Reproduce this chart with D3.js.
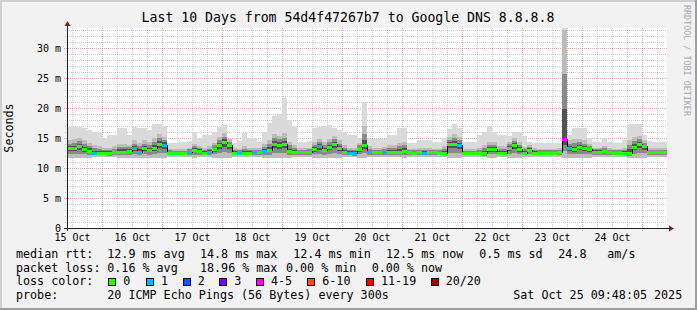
<!DOCTYPE html>
<html>
<head>
<meta charset="utf-8">
<script src="https://cdn.jsdelivr.net/npm/d3@7"></script>
<style>
    html, body { margin: 0; padding: 0; background: #f2f2f2; }
    svg { display: block; }
    text { font-family: "DejaVu Sans Mono", monospace; fill: #000; }
</style>
</head>
<body>
<svg id="chart" width="697" height="310"></svg>
<script>
'use strict';

// median rtt per 2 hour step (ms)
var median = [
    13.3, 13.3, 13.6, 13.1, 12.9, 12.55, 12.55, 12.55, 12.5, 12.6,
    12.75, 12.75, 12.85, 13.3, 12.75, 13.3, 13.0, 13.3, 14.0, 13.9,
    12.5, 12.5, 12.5, 12.5, 12.7, 13.0, 12.9, 12.55, 12.7, 13.1,
    13.8, 14.4, 13.8, 12.55, 12.55, 12.55, 12.55, 12.6, 12.6, 12.9,
    13.0, 14.0, 13.85, 14.0, 12.8, 12.6, 12.6, 12.6, 12.7, 13.1,
    13.6, 13.0, 13.5, 14.0, 13.3, 12.7, 12.55, 12.5, 13.1, 13.8,
    12.6, 12.6, 12.6, 12.6, 12.7, 12.7, 12.75, 12.85, 12.6, 12.55,
    12.6, 12.55, 12.6, 12.6, 12.55, 12.55, 14.0, 14.0, 13.85, 12.45,
    12.45, 12.45, 12.45, 12.45, 13.1, 13.15, 12.55, 12.55, 13.3, 13.8,
    13.1, 12.55, 13.0, 12.55, 12.55, 12.55, 12.55, 12.55, 12.6, 14.8,
    13.3, 13.1, 13.55, 13.3, 13.1, 12.75, 12.75, 12.85, 12.6, 12.55,
    12.55, 12.55, 12.55, 13.5, 14.0, 13.6, 12.6, 12.6, 12.6, 12.6
];

// index into LOSS_COLORS
var loss = [
    0, 0, 0, 0, 0, 1, 0, 0, 0, 0,
    0, 0, 0, 1, 1, 0, 0, 0, 0, 1,
    0, 0, 0, 0, 1, 0, 0, 0, 1, 0,
    0, 0, 0, 0, 1, 0, 0, 1, 0, 1,
    0, 0, 0, 0, 0, 0, 0, 0, 0, 0,
    1, 0, 0, 0, 0, 0, 1, 1, 0, 0,
    1, 0, 0, 1, 0, 0, 0, 0, 0, 0,
    0, 1, 0, 0, 0, 0, 0, 0, 1, 0,
    0, 0, 0, 0, 0, 0, 0, 0, 0, 0,
    0, 0, 0, 0, 0, 0, 0, 0, 0, 4,
    1, 0, 0, 0, 0, 0, 0, 0, 0, 0,
    0, 0, 0, 0, 0, 0, 0, 0, 0, 0
];

// smoke: lowest ping, upper dark edge, highest ping (ms)
var smokeLo = [
    11.6, 11.6, 11.6, 11.7, 11.7, 11.8, 11.8, 11.8, 11.8, 11.8,
    11.7, 11.7, 11.7, 11.6, 11.7, 11.6, 11.7, 11.6, 11.6, 11.6,
    11.9, 11.9, 11.9, 11.9, 11.8, 11.7, 11.8, 11.8, 11.8, 11.7,
    11.6, 11.6, 11.7, 11.9, 11.9, 11.8, 11.8, 11.8, 11.9, 11.7,
    11.7, 11.6, 11.6, 11.6, 11.7, 11.8, 11.9, 11.9, 11.8, 11.7,
    11.6, 11.7, 11.6, 11.6, 11.7, 11.8, 11.8, 11.8, 11.7, 11.6,
    11.8, 11.9, 11.9, 11.9, 11.8, 11.8, 11.8, 11.7, 11.9, 11.9,
    11.9, 11.9, 11.9, 11.9, 11.9, 11.8, 11.6, 11.6, 11.6, 11.9,
    11.9, 11.9, 11.9, 11.8, 11.7, 11.7, 11.8, 11.8, 11.7, 11.6,
    11.7, 11.8, 11.8, 11.9, 11.9, 11.9, 11.9, 11.9, 11.9, 11.6,
    11.7, 11.7, 11.6, 11.7, 11.7, 11.8, 11.8, 11.8, 11.9, 11.9,
    11.9, 11.9, 11.7, 11.6, 11.6, 11.7, 11.8, 11.9, 11.9, 11.9
];
var smokeHi = [
    14.6, 14.8, 15.0, 14.6, 14.2, 13.8, 13.6, 13.4, 13.4, 13.6,
    14.0, 14.0, 13.8, 14.6, 14.2, 14.6, 14.4, 15.0, 15.6, 15.2,
    13.2, 13.1, 13.1, 13.1, 13.4, 14.0, 13.6, 13.4, 13.6, 14.2,
    15.2, 15.8, 14.8, 13.3, 13.2, 13.6, 13.4, 13.4, 13.3, 14.0,
    14.6, 15.6, 15.4, 15.8, 14.4, 13.8, 13.3, 13.3, 13.4, 14.4,
    14.9, 14.4, 14.8, 15.3, 14.6, 13.8, 13.4, 13.4, 14.2, 17.0,
    13.6, 13.4, 13.4, 13.5, 13.8, 13.8, 14.2, 14.4, 13.2, 13.2,
    13.4, 13.4, 13.4, 13.2, 13.2, 13.6, 15.2, 15.6, 15.2, 13.2,
    13.1, 13.1, 13.4, 13.8, 14.4, 14.4, 13.6, 13.6, 14.4, 15.0,
    14.4, 13.5, 13.9, 13.3, 13.2, 13.2, 13.2, 13.2, 13.3, 33.0,
    14.6, 14.8, 14.8, 14.6, 14.0, 13.4, 13.4, 13.6, 13.3, 13.2,
    13.2, 13.3, 14.6, 15.2, 15.4, 14.6, 13.4, 13.3, 13.3, 13.3
];
var smokeMax = [
    16.9, 16.9, 16.9, 16.6, 16.3, 16.05, 16.05, 15.0, 15.5, 15.5,
    16.6, 16.6, 15.5, 16.9, 16.6, 16.6, 16.3, 17.3, 17.3, 17.0,
    14.2, 14.2, 14.3, 14.3, 14.5, 16.0, 15.0, 15.5, 15.5, 16.0,
    16.9, 17.2, 14.3, 14.2, 14.5, 15.8, 15.0, 15.0, 14.3, 16.0,
    17.5, 18.7, 19.0, 21.6, 18.0, 17.0, 14.3, 14.3, 14.5, 16.6,
    16.9, 17.0, 17.2, 16.6, 16.3, 16.0, 15.5, 15.5, 15.0, 21.0,
    15.0, 14.9, 14.9, 14.9, 15.5, 15.5, 16.6, 16.6, 14.2, 14.2,
    14.6, 14.6, 14.6, 14.3, 14.3, 15.0, 16.5, 17.3, 16.6, 14.3,
    14.3, 14.3, 15.5, 16.0, 17.0, 16.0, 15.5, 15.5, 15.3, 16.0,
    16.0, 15.3, 14.3, 14.2, 14.2, 14.2, 14.2, 14.2, 14.2, 33.3,
    15.5, 16.6, 16.6, 16.6, 15.0, 14.3, 14.3, 15.0, 14.3, 14.2,
    14.2, 14.6, 17.3, 17.3, 17.3, 15.5, 14.5, 14.3, 14.3, 14.3
];

var LOSS_COLORS = ['#26ff00', '#00b8ff', '#0059ff', '#7e00ff', '#ff00ff', '#ff5500', '#ff0000', '#a10000'];
var LOSS_LABELS = ['0', '1', '2', '3', '4-5', '6-10', '11-19', '20/20'];
var Y_TICKS = [0, 5, 10, 15, 20, 25, 30];

var TITLE = 'Last 10 Days from 54d4f47267b7 to Google DNS 8.8.8.8';
var STAMP = 'Sat Oct 25 09:48:05 2025';
var STEP = 7200 * 1000;
var END = Date.UTC(2025, 9, 25, 9, 48, 5);
var START = END - 10 * 86400 * 1000;

var W = 697, H = 310;
var LEFT = 67, RIGHT = 667, TOP = 28, BOTTOM = 228;
var GRID = 'rgba(143,143,143,0.45)';
var MGRID = 'rgba(222,79,79,0.5)';

var svg = d3.select('#chart');

var x = d3.scaleUtc().domain([new Date(START), new Date(END)]).range([LEFT, RIGHT]);
var y = d3.scaleLinear().domain([0, 100 / 3]).range([BOTTOM, TOP]);

function tx(i) { return Math.round(x(new Date(START + i * STEP))); }
function ty(v) { return Math.round(y(v)); }
function crisp(v) { return Math.round(v) + 0.5; }

// frame
svg.append('rect').attr('width', W).attr('height', H).attr('fill', '#f2f2f2');
svg.append('path').attr('d', 'M0,0H' + W + 'V2H2V' + H + 'H0Z').attr('fill', '#cfcfcf');
svg.append('path').attr('d', 'M' + W + ',' + H + 'H0V' + (H - 2) + 'H' + (W - 2) + 'V0H' + W + 'Z').attr('fill', '#9e9e9e');
svg.append('rect').attr('x', LEFT).attr('y', TOP).attr('width', RIGHT - LEFT).attr('height', BOTTOM - TOP).attr('fill', '#fff');

// grid
var grid = svg.append('g').attr('shape-rendering', 'crispEdges');
var minorX = x.ticks(d3.utcHour.every(6)).filter(function (d) { return d.getUTCHours() !== 0; });
var majorX = x.ticks(d3.utcDay.every(1));
var minorY = d3.range(1, 34).filter(function (v) { return v % 5 !== 0; });

grid.selectAll('.gx').data(minorX).enter().append('line')
    .attr('x1', function (d) { return crisp(x(d)); }).attr('x2', function (d) { return crisp(x(d)); })
    .attr('y1', TOP).attr('y2', BOTTOM + 2)
    .attr('stroke', GRID).attr('stroke-dasharray', '1,1');
grid.selectAll('.gy').data(minorY).enter().append('line')
    .attr('y1', function (d) { return crisp(y(d)); }).attr('y2', function (d) { return crisp(y(d)); })
    .attr('x1', LEFT - 2).attr('x2', RIGHT)
    .attr('stroke', GRID).attr('stroke-dasharray', '1,1');
grid.selectAll('.mx').data(majorX).enter().append('line')
    .attr('x1', function (d) { return crisp(x(d)); }).attr('x2', function (d) { return crisp(x(d)); })
    .attr('y1', TOP).attr('y2', BOTTOM + 3)
    .attr('stroke', MGRID).attr('stroke-dasharray', '1,1');
grid.selectAll('.my').data(Y_TICKS.slice(1)).enter().append('line')
    .attr('y1', function (d) { return crisp(y(d)); }).attr('y2', function (d) { return crisp(y(d)); })
    .attr('x1', LEFT - 3).attr('x2', RIGHT)
    .attr('stroke', MGRID).attr('stroke-dasharray', '1,1');

// smoke, outermost band first
var bands = [
    { lo: 0, hi: null, color: '#dadada' },
    { lo: 0, hi: 0, color: '#bcbcbc' },
    { lo: 0.4, hi: 0.4, color: '#8a8a8a' },
    { lo: 0.7, hi: 0.72, color: '#525252' }
];
var smoke = svg.append('g').attr('shape-rendering', 'crispEdges');
bands.forEach(function (b) {
    smoke.append('g').selectAll('rect').data(median).enter().append('rect')
        .attr('x', function (d, i) { return tx(i); })
        .attr('width', function (d, i) { return tx(i + 1) - tx(i); })
        .attr('y', function (d, i) {
            var top = b.hi === null ? smokeMax[i] : smokeHi[i] - (smokeHi[i] - d) * b.hi;
            return ty(top);
        })
        .attr('height', function (d, i) {
            var top = b.hi === null ? smokeMax[i] : smokeHi[i] - (smokeHi[i] - d) * b.hi;
            var bot = smokeLo[i] + (d - smokeLo[i]) * b.lo;
            return Math.max(1, ty(bot) - ty(top));
        })
        .attr('fill', b.color);
});

// median: thin black staircase, then loss coloured steps
var stepData = median.concat([median[median.length - 1]]);
svg.append('path')
    .datum(stepData)
    .attr('d', d3.line()
        .x(function (d, i) { return tx(i); })
        .y(function (d) { return crisp(y(d)); })
        .curve(d3.curveStepAfter))
    .attr('fill', 'none').attr('stroke', '#000').attr('stroke-width', 1)
    .attr('shape-rendering', 'crispEdges');
svg.append('g').attr('shape-rendering', 'crispEdges').selectAll('rect').data(median).enter().append('rect')
    .attr('x', function (d, i) { return tx(i); })
    .attr('width', function (d, i) { return tx(i + 1) - tx(i); })
    .attr('y', function (d) { return ty(d) - 1; })
    .attr('height', 3)
    .attr('fill', function (d, i) { return LOSS_COLORS[loss[i]]; });

// axes and arrows
var axis = svg.append('g').attr('shape-rendering', 'crispEdges');
axis.append('line').attr('x1', LEFT - 3).attr('x2', RIGHT + 3).attr('y1', BOTTOM + 0.5).attr('y2', BOTTOM + 0.5).attr('stroke', '#1f1f1f');
axis.append('line').attr('x1', LEFT + 0.5).attr('x2', LEFT + 0.5).attr('y1', BOTTOM + 3).attr('y2', TOP - 3).attr('stroke', '#1f1f1f');
svg.append('path').attr('d', 'M' + (RIGHT + 2) + ',' + (BOTTOM - 2.5) + 'L' + (RIGHT + 7) + ',' + (BOTTOM + 0.5) + 'L' + (RIGHT + 2) + ',' + (BOTTOM + 3.5) + 'Z').attr('fill', '#801f1f');
svg.append('path').attr('d', 'M' + (LEFT - 2.5) + ',' + (TOP - 2) + 'L' + (LEFT + 0.5) + ',' + (TOP - 7) + 'L' + (LEFT + 3.5) + ',' + (TOP - 2) + 'Z').attr('fill', '#801f1f');

// tick labels
svg.append('g').selectAll('text').data(Y_TICKS).enter().append('text')
    .attr('x', LEFT - 6).attr('y', function (d) { return y(d) + 3.5; })
    .attr('text-anchor', 'end').style('font-size', '10px')
    .text(function (d) { return d ? d + ' m' : '0'; });

var dayLabels = d3.utcDay.range(new Date(START - 86400000), new Date(END))
    .map(function (d) { return d3.utcHour.offset(d, 12); })
    .filter(function (d) { return d >= new Date(START) && d <= new Date(END); });
svg.append('g').selectAll('text').data(dayLabels).enter().append('text')
    .attr('x', function (d) { return x(d); }).attr('y', 241)
    .attr('text-anchor', 'middle').style('font-size', '10px')
    .text(d3.utcFormat('%d %b'));

// titles
svg.append('text').attr('x', 348).attr('y', 22).attr('text-anchor', 'middle')
    .style('font-size', '13.2px').text(TITLE);
svg.append('text').attr('transform', 'translate(13,' + ((TOP + BOTTOM) / 2) + ') rotate(-90)')
    .attr('text-anchor', 'middle').style('font-size', '11.7px').text('Seconds');
svg.append('text').attr('transform', 'translate(684,5) rotate(90)')
    .style('font-size', '8.4px').style('fill', '#a8a8a8').text('RRDTOOL / TOBI OETIKER');

// legend
var legendRows = [
    { y: 258.3, items: [['median rtt:', 16], ['12.9 ms avg', 107.3], ['14.8 ms max', 200], ['12.4 ms min', 293.3],
        ['12.5 ms now', 386], ['0.5 ms sd', 479.3], ['24.8', 558.3], ['am/s', 607.3]] },
    { y: 271.7, items: [['packet loss:', 16], ['0.16 % avg', 107.3], ['18.96 % max', 200], ['0.00 % min', 286],
        ['0.00 % now', 371.7]] },
    { y: 285.3, items: [['loss color:', 16]] },
    { y: 299, items: [['probe:', 16], ['20 ICMP Echo Pings (56 Bytes) every 300s', 107.3], [STAMP, 513.3]] }
];
var legend = svg.append('g').style('font-size', '11.7px');
legendRows.forEach(function (row) {
    row.items.forEach(function (it) {
        legend.append('text').attr('x', it[1]).attr('y', row.y).attr('xml:space', 'preserve').text(it[0]);
    });
});

var boxX = [108.3, 146, 182.7, 219.3, 256, 307.3, 366, 430.7];
var swatch = svg.append('g').selectAll('g').data(LOSS_LABELS).enter().append('g');
swatch.append('rect')
    .attr('x', function (d, i) { return Math.round(boxX[i]) + 0.5; }).attr('y', 278.5)
    .attr('width', 7).attr('height', 7)
    .attr('fill', function (d, i) { return LOSS_COLORS[i]; }).attr('stroke', '#000')
    .attr('shape-rendering', 'crispEdges');
swatch.append('text')
    .attr('x', function (d, i) { return boxX[i] + 15; }).attr('y', 285.3)
    .style('font-size', '11.7px')
    .text(function (d) { return d; });
</script>
</body>
</html>
